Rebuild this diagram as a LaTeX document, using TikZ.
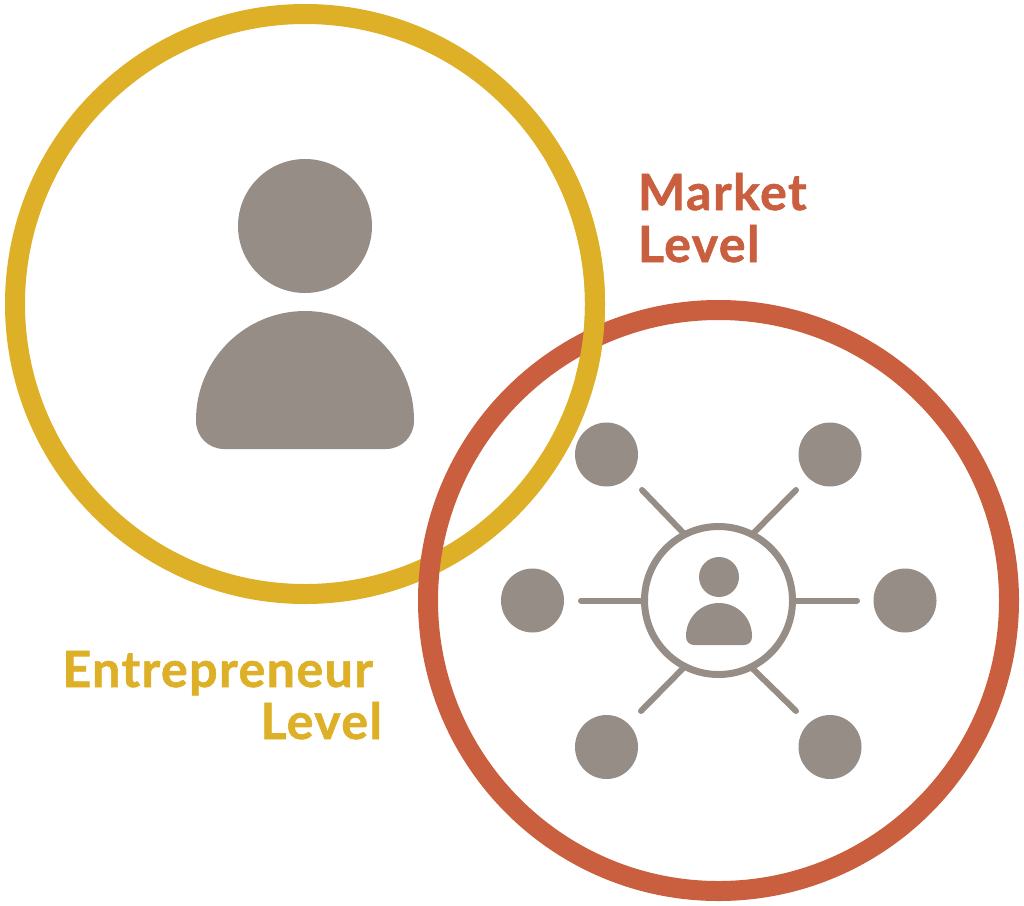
\documentclass[tikz,border=0pt]{standalone}
\usepackage{fontspec}
\newfontfamily\lblfont[LetterSpace=3.0,FakeBold=1.2]{Lato Bold}
\definecolor{ygold}{HTML}{DDB027}
\definecolor{rust}{HTML}{C95F3E}
\definecolor{stone}{HTML}{968E86}
\usetikzlibrary{shapes.geometric}
\tikzset{
  bigring/.style={line width=20pt},
  sat/.style={draw=none,fill=stone,shape=ellipse,minimum width=63pt,minimum height=64pt,inner sep=0pt,outer sep=0pt},
  hubring/.style={draw=stone,line width=7pt,circle,minimum size=148pt,inner sep=0pt,outer sep=0pt},
  spoke/.style={draw=stone,line width=6pt,line cap=round},
  lbl/.style={font=\lblfont\fontsize{50}{52}\selectfont,inner sep=0pt,outer sep=0pt},
}
\begin{document}
\begin{tikzpicture}[x=1pt,y=-1pt]
\useasboundingbox (0,0) rectangle (1024,905);
% big rings
\draw[bigring,draw=ygold] (305,304) circle[radius=290];
\draw[bigring,draw=rust] (718.5,600.5) circle[radius=290.5];
\draw[bigring,draw=ygold] (305,304) ++(15:290) arc[start angle=15,end angle=-30,radius=290,y=1pt,x=1pt];
% large person
\fill[stone] (305,226) circle[radius=67];
\fill[stone] (196,420) arc[start angle=180,end angle=0,x radius=109,y radius=-109]
  -- (414,421) .. controls (414,436.5) and (401.5,449) .. (386,449)
  -- (224,449) .. controls (208.5,449) and (196,436.5) .. (196,421) -- cycle;
% hub
\node[hubring] (hub) at (718.5,600.5) {};
\fill[stone] (719,577) circle[radius=20];
\fill[stone] (686,636) arc[start angle=180,end angle=0,x radius=33,y radius=-33]
  -- (752,637) .. controls (752,641.5) and (748.5,645) .. (744,645)
  -- (694,645) .. controls (689.5,645) and (686,641.5) .. (686,637) -- cycle;
% satellites
\node[sat] (nw) at (606.5,454.5) {};
\node[sat] (ne) at (830,454.5) {};
\node[sat] (w) at (532.5,600.5) {};
\node[sat] (e) at (905,600.5) {};
\node[sat] (sw) at (606.5,747) {};
\node[sat] (se) at (830,747) {};
% spoke free ends
\coordinate (cnw) at (642,490);
\coordinate (cne) at (796,490);
\coordinate (cw) at (581,600.5);
\coordinate (ce) at (857,600.5);
\coordinate (csw) at (641,711);
\coordinate (cse) at (796,711);
\draw[spoke] (cnw) -- (hub.117);
\draw[spoke] (cne) -- (hub.63.5);
\draw[spoke] (cw) -- (hub.180);
\draw[spoke] (ce) -- (hub.0);
\draw[spoke] (csw) -- (hub.243);
\draw[spoke] (cse) -- (hub.296.5);
% labels
\node[lbl,text=rust,align=left,anchor=base west] (market) at (638,262) {Market\\Level};
\node[lbl,text=ygold,align=right,anchor=base east] (entre) at (382,739) {\mbox{Entrepreneur\kern 9pt}\\Level};
\end{tikzpicture}
\end{document}
